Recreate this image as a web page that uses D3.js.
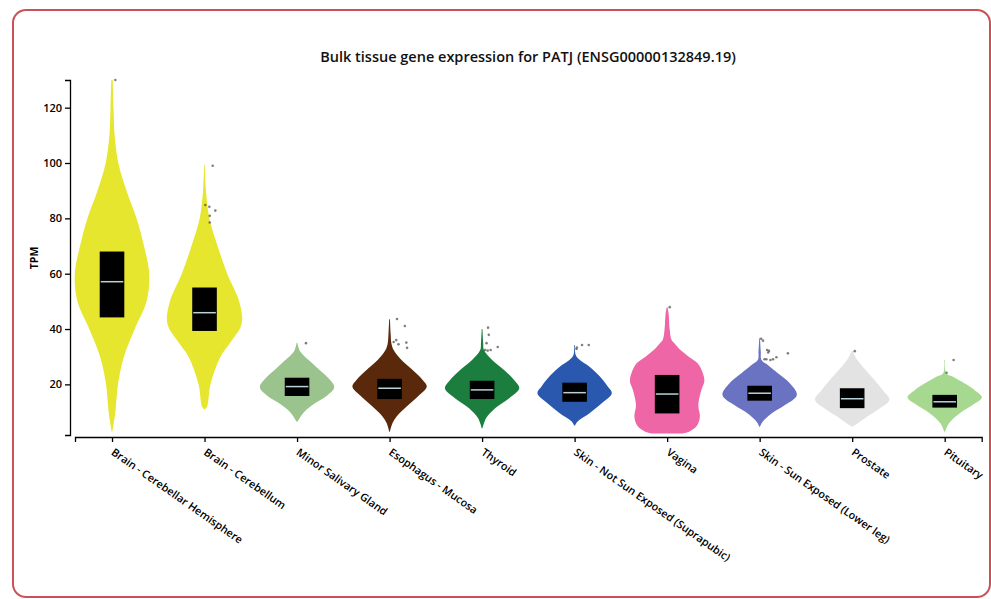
<!DOCTYPE html>
<html>
<head>
<meta charset="utf-8">
<script src="https://cdn.jsdelivr.net/npm/d3@7"></script>
<style>
  html, body { margin: 0; padding: 0; background: #fff; }
  svg { display: block; }
  text { font-family: "Open Sans", "Noto Sans", sans-serif; }
</style>
</head>
<body>
<svg id="chart" width="991" height="599"></svg>
<script>
// ---------------- data ----------------
const title = "Bulk tissue gene expression for PATJ (ENSG00000132849.19)";
const yLabel = "TPM";
const categories = [
  "Brain - Cerebellar Hemisphere", "Brain - Cerebellum", "Minor Salivary Gland",
  "Esophagus - Mucosa", "Thyroid", "Skin - Not Sun Exposed (Suprapubic)",
  "Vagina", "Skin - Sun Exposed (Lower leg)", "Prostate", "Pituitary"
];
const colors = ["#e6e62e", "#e6e62e", "#9ac38e", "#5a280b", "#1c7e3e", "#2958ae",
                "#ee66a6", "#6a72c2", "#e3e3e3", "#a6d890"];
const yTicks = [20, 40, 60, 80, 100, 120];
const q1     = [44.2, 39.3, 15.8, 14.7, 14.7, 13.7,  9.5, 14.1, 11.4, 11.6];
const median = [57.1, 45.9, 19.2, 18.6, 18.0, 17.0, 16.5, 16.8, 14.8, 13.7];
const q3     = [68.0, 55.0, 22.4, 22.0, 21.3, 20.6, 23.4, 19.5, 18.6, 16.2];

// violin density profiles: [TPM, relative density]
const densBrainCH = [[2.9,0.01],[10,0.09],[20,0.16],[30,0.32],[40,0.61],[50,0.93],[60,1],[70,0.86],[80,0.66],[90,0.39],[100,0.17],[110,0.07],[120,0.04],[130,0.02]];
const densBrainCB = [[11,0.01],[12,0.07],[20,0.16],[30,0.43],[35,0.69],[42,1],[50,0.93],[60,0.61],[70,0.35],[80,0.13],[90,0.04],[99.3,0.01]];
const densSalivary = [[6.5,0.01],[10,0.19],[13,0.46],[16,0.81],[19,1],[22,0.86],[25,0.62],[28,0.38],[32,0.08],[35,0.01]];
const densEsophagus = [[2.9,0.01],[6,0.08],[8.4,0.19],[12,0.46],[15.6,0.76],[19.2,1],[21.6,0.89],[25.2,0.62],[28.8,0.32],[32.4,0.11],[34.8,0.05],[38,0.03],[43.5,0.01]];
const densThyroid = [[4.1,0.01],[7.8,0.11],[11.4,0.35],[15,0.73],[18.6,1],[21.6,0.86],[25.2,0.59],[28.8,0.27],[32.4,0.05],[35,0.03],[40,0.01]];
const densSkinNSE = [[5.1,0.01],[6.6,0.08],[9.6,0.4],[13.2,0.73],[16.8,1],[19.2,0.89],[22.8,0.68],[26.4,0.4],[28.8,0.14],[30.6,0.03],[34.2,0.01]];
const densVagina = [[2.2,0.4],[3,0.6],[5,0.8],[8.3,0.88],[11.9,0.84],[14,0.85],[18,0.92],[21,1],[24,0.96],[27.6,0.82],[30,0.58],[32.4,0.36],[34.8,0.2],[36,0.12],[39.7,0.07],[45.7,0.04],[47.9,0.01]];
const densSkinSE = [[4.7,0.01],[6.5,0.08],[9.5,0.32],[12.5,0.68],[16.2,1],[20.4,0.81],[24,0.49],[27,0.22],[28.8,0.05],[32,0.03],[36.7,0.01]];
const densProstate = [[4.7,0.01],[5.3,0.08],[7.7,0.33],[10.7,0.68],[14.4,1],[18,0.82],[21.6,0.6],[25.2,0.36],[28.8,0.14],[32.1,0.01]];
const densPituitary = [[2.9,0.01],[5.9,0.11],[9.5,0.4],[12.5,0.75],[15.3,1],[18,0.8],[20.4,0.53],[22.8,0.21],[24,0.04],[28.8,0.01]];
const densities = [densBrainCH, densBrainCB, densSalivary, densEsophagus, densThyroid,
                   densSkinNSE, densVagina, densSkinSE, densProstate, densPituitary];

// outliers: [TPM, jitter]
const outBrainCH = [[130,0.09]];
const outBrainCB = [[99,0.22],[84.8,0.02],[84.2,0.13],[82.8,0.29],[80.9,0.14],[78.5,0.14]];
const outSalivary = [[34.9,0.24]];
const outEsophagus = [[43.6,0.2],[41.1,0.41],[36.0,0.18],[35.3,0.11],[34.5,0.24],[35.1,0.45],[33.2,0.47]];
const outThyroid = [[40.5,0.16],[37.9,0.18],[34.9,0.12],[33.5,0.42],[32.4,0.08],[32.2,0.15],[32.4,0.23]];
const outSkinNSE = [[33.3,0.06],[34.2,0.2],[34.2,0.38],[32.8,0.05]];
const outVagina = [[47.9,0.07]];
const outSkinSE = [[36.5,0.04],[35.8,0.09],[32.4,0.2],[32.1,0.25],[31.5,0.23],[29.1,0.18],[28.8,0.29],[29.1,0.36],[29.8,0.45],[31.2,0.76],[29.1,0.13]];
const outProstate = [[32,0.07]];
const outPituitary = [[28.8,0.24],[24.2,0.05]];
const outliers = [outBrainCH, outBrainCB, outSalivary, outEsophagus, outThyroid,
                  outSkinNSE, outVagina, outSkinSE, outProstate, outPituitary];

// ---------------- drawing ----------------
const svg = d3.select("#chart");

svg.append("rect")
  .attr("x", 13).attr("y", 10).attr("width", 977).attr("height", 587)
  .attr("rx", 13).attr("ry", 13)
  .attr("fill", "none").attr("stroke", "#cc5157").attr("stroke-width", 2);

const y = d3.scaleLinear().domain([1.7, 130]).range([435, 80]);
const x = d3.scalePoint().domain(categories).range([75, 981.7]).padding(0.4);
const w = d3.scaleLinear().domain([0, 1]).range([0, 37.2]);
const boxHalf = 12.3;

svg.append("text")
  .attr("x", 528).attr("y", 62)
  .attr("text-anchor", "middle")
  .attr("font-size", 14.5).attr("font-weight", 600).attr("fill", "#111")
  .text(title);

// violins
const g = svg.append("g");
categories.forEach((c, i) => {
  const cx = x(c);
  const area = d3.area()
    .y(d => y(d[0]))
    .x0(d => cx - w(d[1]))
    .x1(d => cx + w(d[1]))
    .curve(d3.curveCatmullRom.alpha(0.5));
  g.append("path")
    .datum(densities[i])
    .attr("d", area)
    .attr("fill", colors[i]);

  g.append("rect")
    .attr("x", cx - boxHalf).attr("width", boxHalf * 2)
    .attr("y", y(q3[i])).attr("height", y(q1[i]) - y(q3[i]))
    .attr("fill", "#000");
  g.append("line")
    .attr("x1", cx - boxHalf + 1).attr("x2", cx + boxHalf - 1)
    .attr("y1", y(median[i])).attr("y2", y(median[i]))
    .attr("stroke", "#b9d2da").attr("stroke-width", 1.5);

  g.selectAll(null).data(outliers[i]).enter().append("circle")
    .attr("cx", d => cx + w(d[1]))
    .attr("cy", d => y(d[0]))
    .attr("r", 1.3)
    .attr("fill", "#555").attr("fill-opacity", 0.75);
});

// y axis
const yAxis = svg.append("g")
  .attr("transform", "translate(70,0)")
  .call(d3.axisLeft(y).tickValues(yTicks).tickSize(5).tickSizeOuter(5).tickPadding(3));
yAxis.selectAll("path, line").attr("stroke", "#000").attr("stroke-width", 1.3);
yAxis.selectAll("text").attr("font-size", 11).attr("font-weight", 600).attr("fill", "#000")
  .style("font-family", "'Open Sans', sans-serif");

svg.append("text")
  .attr("transform", "translate(38,258) rotate(-90)")
  .attr("text-anchor", "middle")
  .attr("font-size", 10.5).attr("font-weight", 700).attr("fill", "#000")
  .text(yLabel);

// x axis
const xAxis = svg.append("g")
  .attr("transform", "translate(0,437)")
  .call(d3.axisBottom(x).tickSize(5).tickSizeOuter(5));
xAxis.selectAll("path, line").attr("stroke", "#000").attr("stroke-width", 1.3);
xAxis.selectAll("text")
  .attr("font-size", 10.8).attr("font-weight", 600).attr("fill", "#000")
  .style("font-family", "'Open Sans', sans-serif")
  .attr("text-anchor", "start")
  .attr("x", 0).attr("y", 0).attr("dy", 0)
  .attr("transform", "translate(-2,17) rotate(35)");
</script>
</body>
</html>
